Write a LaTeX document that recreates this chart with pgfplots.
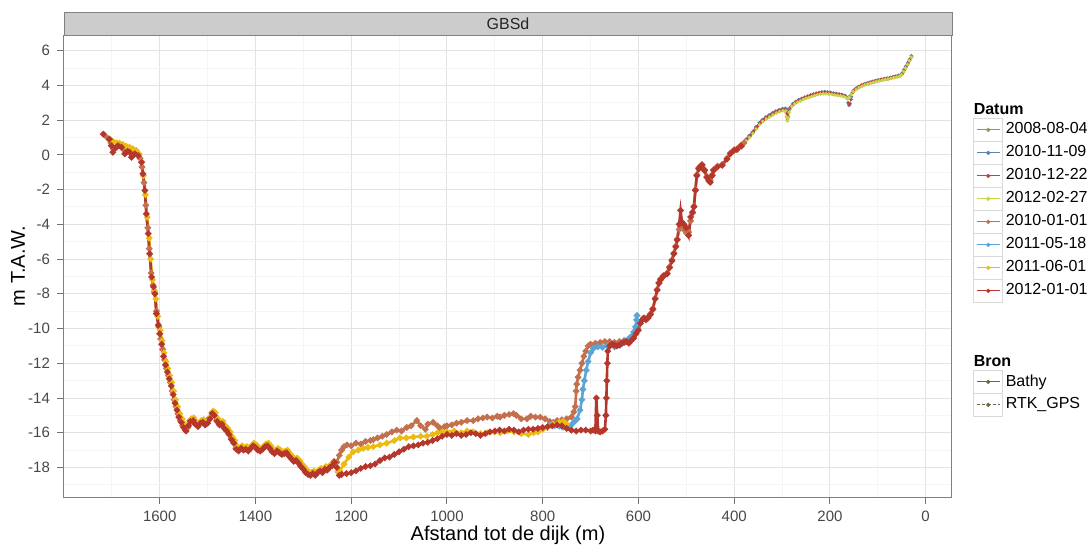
\documentclass[border=0pt]{standalone}
\usepackage{fontspec}
\setmainfont{Liberation Sans}
\usepackage{pgfplots}
\pgfplotsset{compat=1.18}
\definecolor{cA}{HTML}{8C9A5B}
\definecolor{cB}{HTML}{5E82A8}
\definecolor{cC}{HTML}{C8413B}
\definecolor{cD}{HTML}{C9D64A}
\definecolor{cE}{HTML}{C3704F}
\definecolor{cF}{HTML}{5AA5D6}
\definecolor{cG}{HTML}{EBBB12}
\definecolor{cH}{HTML}{B5372C}
\definecolor{cBron}{HTML}{6F6445}
\pgfplotsset{ggkey/.style={legend image code/.code={
  \draw[draw=black!15, fill=white, solid, line width=0.4pt] (0pt,-5.55pt) rectangle (14.5pt,5.55pt);
  \draw[mark repeat=2, mark phase=2, mark options={solid}] plot coordinates {(1.5pt,0pt) (7.25pt,0pt) (13pt,0pt)};
}}}
\begin{document}
\begin{tikzpicture}
\useasboundingbox (0,0) rectangle (544pt,274pt);
\begin{axis}[
  at={(32pt,25.5pt)}, anchor=south west,
  scale only axis, width=444pt, height=231pt,
  x dir=reverse, xmin=-55, xmax=1800, ymin=-19.7, ymax=6.9,
  xtick={0,200,400,600,800,1000,1200,1400,1600},
  xticklabels={0,200,400,600,800,1000,1200,1400,1600},
  ytick={-18,-16,-14,-12,-10,-8,-6,-4,-2,0,2,4,6},
  yticklabels={-18,-16,-14,-12,-10,-8,-6,-4,-2,0,2,4,6},
  minor xtick={100,300,500,700,900,1100,1300,1500,1700},
  minor ytick={-19,-17,-15,-13,-11,-9,-7,-5,-3,-1,1,3,5},
  tick align=outside, xtick pos=left, ytick pos=left,
  major tick length=3.5pt, minor tick length=0pt,
  tick style={black!55, line width=0.5pt},
  grid=both,
  major grid style={color=black!11, line width=0.5pt},
  minor grid style={color=black!4, line width=0.5pt},
  axis line style={black!50, line width=0.5pt},
  ticklabel style={font=\fontsize{7.5}{9}\selectfont, text=black!72},
  label style={font=\fontsize{9.8}{12}\selectfont},
  every axis x label/.style={at={(axis description cs:0.5,0)}, yshift=-19pt, anchor=center},
  every axis y label/.style={at={(axis description cs:0,0.5)}, xshift=-23pt, rotate=90, anchor=center},
  xlabel={Afstand tot de dijk (m)},
  ylabel={m T.A.W.},
  legend style={at={(1.0236,0.855)}, anchor=north west, draw=none, fill=none, inner sep=0pt,
    font=\fontsize{8}{9.6}\selectfont, row sep=0pt,
    nodes={inner xsep=1.3pt, inner ysep=0.5pt},
    /tikz/every even column/.append style={column sep=0pt}},
  legend cell align=left,
  bathy/.style={solid, line width=1.3pt, mark=*, mark size=0.85pt},
  rtk/.style={dash pattern=on 2pt off 1.5pt, line width=0.45pt, mark=*, mark size=0.65pt, mark options={solid}},
]
% ---------------- RTK_GPS ----------------
\addplot[cA, rtk, forget plot] coordinates {
(402,0.20) (395,0.35) (388,0.50) (381,0.65) (374,0.85) (367,1.05) (360,1.30) (353,1.55) (346,1.80) (339,1.98)
(332,2.12) (325,2.25) (318,2.35) (311,2.45) (304,2.52) (297,2.58) (292,2.50) (290,2.15) (289,2.00) (287,2.20)
(284,2.62) (279,2.85) (273,2.98) (267,3.08) (261,3.15) (255,3.22) (249,3.28) (243,3.35) (237,3.40) (231,3.45)
(225,3.50) (219,3.52) (213,3.55) (207,3.55) (201,3.52) (195,3.50) (189,3.47) (183,3.45) (177,3.42) (171,3.38)
(166,3.32) (162,3.25) (158,3.40) (154,3.55) (150,3.68) (144,3.80) (138,3.90) (132,3.98) (126,4.05) (120,4.10)
(114,4.15) (108,4.20) (102,4.24) (96,4.28) (90,4.32) (84,4.35) (78,4.38) (72,4.42) (66,4.46) (60,4.50)
(54,4.54) (49,4.65) (45,4.85) (41,5.05) (37,5.25) (33,5.45) (29,5.65)
};
\addplot[cB, rtk, forget plot] coordinates {
(398,0.30) (390,0.52) (383,0.68) (376,0.88) (369,1.10) (362,1.32) (355,1.60) (348,1.84) (341,2.02) (334,2.18)
(327,2.30) (320,2.42) (313,2.52) (306,2.60) (299,2.66) (293,2.68) (288,2.62) (283,2.72) (277,2.95) (271,3.08)
(265,3.18) (259,3.25) (253,3.32) (247,3.38) (241,3.45) (235,3.50) (229,3.55) (223,3.58) (217,3.62) (211,3.64)
(205,3.62) (199,3.60) (193,3.56) (187,3.54) (181,3.50) (175,3.48) (169,3.42) (165,3.30) (162,3.00) (160,2.85)
(158,2.95) (155,3.35) (151,3.70) (146,3.82) (140,3.92) (134,4.02) (128,4.08) (122,4.14) (116,4.19) (110,4.24)
(104,4.28) (98,4.32) (92,4.36) (86,4.39) (80,4.42) (74,4.46) (68,4.50) (62,4.54) (56,4.58) (50,4.68)
(46,4.88) (42,5.08) (38,5.28) (34,5.48) (30,5.70)
};
\addplot[cC, rtk, forget plot] coordinates {
(400,0.25) (393,0.42) (386,0.58) (379,0.75) (372,0.95) (365,1.18) (358,1.42) (351,1.66) (344,1.90) (337,2.06)
(330,2.20) (323,2.32) (316,2.44) (309,2.52) (302,2.58) (296,2.62) (291,2.45) (289,2.30) (286,2.45) (282,2.75)
(276,2.92) (270,3.05) (264,3.14) (258,3.22) (252,3.30) (246,3.36) (240,3.42) (234,3.48) (228,3.52) (222,3.56)
(216,3.58) (210,3.60) (204,3.58) (198,3.55) (192,3.52) (186,3.50) (180,3.47) (174,3.44) (168,3.38) (164,3.25)
(161,2.95) (159,2.90) (156,3.20) (152,3.60) (148,3.76) (142,3.88) (136,3.97) (130,4.04) (124,4.10) (118,4.15)
(112,4.20) (106,4.24) (100,4.28) (94,4.31) (88,4.35) (82,4.38) (76,4.41) (70,4.45) (64,4.49) (58,4.53)
(52,4.58) (47,4.76) (43,4.96) (39,5.16) (35,5.38) (31,5.58)
};
\addplot[cD, rtk, forget plot] coordinates {
(396,0.28) (389,0.45) (382,0.60) (375,0.80) (368,1.00) (361,1.22) (354,1.48) (347,1.72) (340,1.92) (333,2.06)
(326,2.18) (319,2.30) (312,2.40) (305,2.48) (298,2.54) (293,2.52) (291,2.20) (289,1.95) (287,2.10) (285,2.45)
(280,2.78) (274,2.92) (268,3.02) (262,3.10) (256,3.18) (250,3.25) (244,3.30) (238,3.36) (232,3.42) (226,3.46)
(220,3.50) (214,3.52) (208,3.52) (202,3.50) (196,3.48) (190,3.45) (184,3.42) (178,3.40) (172,3.36) (167,3.30)
(163,3.22) (159,3.30) (155,3.48) (151,3.64) (145,3.76) (139,3.87) (133,3.95) (127,4.02) (121,4.08) (115,4.13)
(109,4.18) (103,4.22) (97,4.26) (91,4.30) (85,4.33) (79,4.36) (73,4.40) (67,4.44) (61,4.48) (55,4.52)
(50,4.60) (46,4.80) (42,5.00) (38,5.20) (34,5.42) (30,5.62)
};
% ---------------- Bathy ----------------
% 2010-01-01
\addplot[cE, bathy, forget plot] coordinates {
(1716,1.15) (1708,0.95) (1702,0.70) (1697,0.35) (1690,0.45) (1684,0.55) (1677,0.35) (1670,0.15) (1662,0.20) (1655,0.00)
(1648,0.05) (1641,-0.20) (1637,-0.70) (1633,-1.60) (1629,-2.90) (1625,-4.20) (1622,-5.40) (1618,-6.80) (1614,-7.50) (1611,-7.90)
(1607,-9.00) (1602,-9.90) (1598,-10.60) (1594,-11.20) (1590,-11.80) (1586,-12.30) (1582,-12.70) (1578,-13.10) (1574,-13.60) (1570,-14.10)
(1566,-14.50) (1562,-14.90) (1557,-15.30) (1552,-15.60) (1547,-15.85) (1542,-15.70) (1537,-15.30) (1532,-15.25) (1527,-15.45) (1521,-15.55)
(1516,-15.40) (1511,-15.35) (1506,-15.50) (1501,-15.40) (1496,-15.15) (1491,-14.85) (1487,-14.95) (1481,-15.30) (1476,-15.50) (1471,-15.45)
(1466,-15.70) (1461,-15.85) (1456,-16.05) (1451,-16.35) (1446,-16.55) (1441,-16.90) (1436,-17.00) (1431,-16.85) (1426,-16.95) (1421,-16.90)
(1416,-17.00) (1411,-16.85) (1406,-16.70) (1401,-16.80) (1396,-16.95) (1391,-17.00) (1386,-16.90) (1381,-16.75) (1376,-16.70) (1371,-16.85)
(1366,-17.05) (1361,-17.15) (1356,-17.00) (1351,-17.10) (1346,-17.20) (1341,-17.15) (1336,-17.10) (1331,-17.30) (1326,-17.45) (1321,-17.60)
(1316,-17.55) (1311,-17.70) (1306,-17.90) (1301,-18.05) (1296,-18.25) (1291,-18.35) (1286,-18.40) (1281,-18.30) (1276,-18.40) (1271,-18.25)
(1266,-18.15) (1261,-18.25) (1256,-18.05) (1251,-18.10) (1246,-17.95) (1241,-17.85) (1236,-17.65) (1230,-17.70) (1225,-17.30) (1220,-17.00)
(1215,-16.80) (1209,-16.70) (1200,-16.75) (1190,-16.60) (1180,-16.65) (1170,-16.50) (1160,-16.45) (1154,-16.40) (1145,-16.30) (1135,-16.20)
(1126,-16.10) (1115,-15.95) (1105,-15.85) (1095,-15.90) (1084,-15.70) (1075,-15.60) (1063,-15.30) (1055,-15.60) (1045,-15.80) (1040,-15.50)
(1029,-15.40) (1020,-15.60) (1014,-15.75) (1005,-15.65) (1000,-15.60) (990,-15.55) (980,-15.45) (970,-15.40) (958,-15.30) (945,-15.30)
(935,-15.20) (925,-15.15) (916,-15.10) (905,-15.15) (895,-15.05) (889,-15.10) (880,-15.00) (870,-14.95) (861,-14.90) (855,-15.00)
(845,-15.20) (833,-15.20) (825,-15.05) (815,-15.10) (805,-15.10) (795,-15.20) (785,-15.35) (778,-15.40) (770,-15.30) (760,-15.25)
(750,-15.20) (740,-15.10) (735,-14.80) (732,-14.50) (730,-13.60) (729,-13.20) (726,-12.80) (722,-12.40) (718,-12.00) (714,-11.60)
(710,-11.30) (705,-11.00) (700,-10.90) (690,-10.85) (680,-10.80) (670,-10.75) (660,-10.75) (650,-10.80) (640,-10.75) (630,-10.70)
(620,-10.60) (610,-10.40) (602,-10.00) (596,-9.70) (590,-9.40) (585,-9.45) (580,-9.35) (575,-9.15) (570,-8.85) (565,-8.25)
(561,-7.75) (557,-7.35) (554,-7.15) (548,-6.95) (540,-6.80) (535,-6.45) (530,-6.05) (526,-5.65) (522,-5.25) (519,-4.85)
(515,-4.30) (510,-4.00) (505,-4.30) (500,-4.50) (495,-4.45) (491,-3.80) (487,-3.35) (484,-2.95) (481,-2.00) (478,-1.15)
(474,-0.75) (471,-0.65) (467,-0.55) (462,-0.85) (457,-1.25) (453,-1.45) (450,-1.50) (446,-1.15) (443,-0.85) (435,-0.65)
(425,-0.55) (415,-0.20) (408,0.10) (400,0.30) (394,0.35) (386,0.55) (380,0.68)
};
% 2011-05-18
\addplot[cF, bathy, forget plot] coordinates {
(785,-15.55) (775,-15.60) (765,-15.62) (758,-15.68) (750,-15.70) (742,-15.60) (735,-15.40) (728,-15.20) (722,-14.70) (718,-14.10)
(716,-13.50) (713,-13.00) (709,-12.40) (705,-11.90) (700,-11.40) (694,-11.15) (685,-11.05) (675,-11.08) (665,-11.00) (659,-11.00)
(650,-11.05) (638,-10.95) (628,-10.70) (617,-10.50) (610,-10.20) (606,-9.90) (604,-9.50) (603,-9.25)
};
% 2011-06-01
\addplot[cG, bathy, forget plot] coordinates {
(1702,0.85) (1697,0.75) (1690,0.70) (1684,0.67) (1677,0.60) (1670,0.50) (1663,0.44) (1656,0.35) (1649,0.25) (1643,0.05)
(1638,-0.40) (1634,-1.20) (1630,-2.30) (1626,-3.60) (1622,-4.80) (1619,-6.00) (1615,-7.20) (1611,-7.80) (1608,-8.30) (1604,-9.30)
(1599,-10.10) (1595,-10.70) (1591,-11.40) (1587,-11.90) (1583,-12.30) (1579,-12.70) (1575,-13.10) (1571,-13.60) (1567,-14.10) (1563,-14.50)
(1558,-14.90) (1553,-15.20) (1548,-15.50) (1543,-15.75) (1538,-15.50) (1534,-15.20) (1529,-15.15) (1524,-15.35) (1518,-15.50) (1513,-15.30)
(1508,-15.25) (1503,-15.40) (1498,-15.30) (1493,-15.05) (1488,-14.75) (1484,-14.85) (1478,-15.20) (1473,-15.40) (1468,-15.35) (1463,-15.60)
(1458,-15.75) (1453,-15.95) (1448,-16.25) (1443,-16.45) (1438,-16.80) (1433,-16.90) (1428,-16.75) (1423,-16.85) (1418,-16.80) (1413,-16.90)
(1408,-16.75) (1403,-16.60) (1398,-16.70) (1393,-16.85) (1388,-16.90) (1383,-16.80) (1378,-16.65) (1373,-16.60) (1368,-16.75) (1363,-16.95)
(1358,-17.05) (1353,-16.90) (1348,-17.00) (1343,-17.10) (1338,-17.05) (1333,-17.00) (1328,-17.20) (1323,-17.35) (1318,-17.50) (1313,-17.45)
(1308,-17.60) (1303,-17.80) (1298,-17.95) (1293,-18.15) (1288,-18.25) (1283,-18.30) (1278,-18.20) (1273,-18.30) (1268,-18.15) (1263,-18.05)
(1258,-18.15) (1253,-17.95) (1248,-18.00) (1243,-17.85) (1238,-17.75) (1233,-17.90) (1228,-18.25) (1224,-18.20) (1215,-17.80) (1205,-17.40)
(1196,-17.10) (1185,-17.00) (1175,-16.90) (1165,-16.85) (1154,-16.80) (1140,-16.70) (1126,-16.60) (1110,-16.45) (1098,-16.30) (1085,-16.30)
(1070,-16.25) (1055,-16.20) (1042,-16.20) (1030,-16.10) (1020,-16.00) (1010,-15.95) (1000,-15.95) (985,-15.90) (970,-16.00) (958,-15.90)
(945,-15.95) (930,-16.05) (916,-16.00) (900,-15.95) (889,-16.00) (875,-15.90) (860,-15.95) (845,-16.05) (830,-16.10) (819,-16.00)
(810,-15.95) (800,-15.80) (790,-15.70) (778,-15.50) (765,-15.40) (757,-15.35) (750,-15.50)
};
% 2012-01-01
\addplot[cH, bathy, forget plot] coordinates {
(1718,1.19) (1705,0.90) (1701,0.53) (1698,0.15) (1692,0.40) (1687,0.53) (1680,0.44) (1673,0.06) (1667,0.20) (1663,0.15)
(1659,-0.14) (1652,0.06) (1645,-0.04) (1638,-0.43) (1635,-1.09) (1631,-2.05) (1628,-3.40) (1624,-4.54) (1621,-5.70) (1617,-7.03)
(1613,-7.60) (1610,-8.00) (1607,-9.14) (1603,-9.80) (1600,-10.30) (1596,-10.90) (1592,-11.60) (1588,-12.10) (1584,-12.50) (1580,-12.90)
(1576,-13.30) (1572,-13.80) (1568,-14.30) (1564,-14.70) (1560,-15.10) (1555,-15.40) (1550,-15.70) (1545,-15.90) (1540,-15.60) (1536,-15.35)
(1530,-15.30) (1526,-15.50) (1520,-15.65) (1515,-15.45) (1510,-15.40) (1505,-15.55) (1500,-15.45) (1495,-15.20) (1490,-14.90) (1486,-15.00)
(1480,-15.35) (1475,-15.55) (1470,-15.50) (1465,-15.75) (1460,-15.90) (1455,-16.10) (1450,-16.40) (1445,-16.60) (1440,-16.95) (1435,-17.05)
(1430,-16.90) (1425,-17.00) (1420,-16.95) (1415,-17.05) (1410,-16.90) (1405,-16.75) (1400,-16.85) (1395,-17.00) (1390,-17.05) (1385,-16.95)
(1380,-16.80) (1375,-16.75) (1370,-16.90) (1365,-17.10) (1360,-17.20) (1355,-17.05) (1350,-17.15) (1345,-17.25) (1340,-17.20) (1335,-17.15)
(1330,-17.35) (1325,-17.50) (1320,-17.65) (1315,-17.60) (1310,-17.75) (1305,-17.95) (1300,-18.10) (1295,-18.30) (1290,-18.40) (1285,-18.45)
(1280,-18.35) (1275,-18.45) (1270,-18.30) (1265,-18.20) (1260,-18.30) (1255,-18.10) (1250,-18.15) (1245,-18.00) (1240,-17.90) (1235,-17.70)
(1230,-18.00) (1225,-18.45) (1220,-18.40) (1210,-18.35) (1200,-18.30) (1190,-18.20) (1180,-18.05) (1170,-17.95) (1160,-17.90) (1150,-17.80)
(1140,-17.60) (1130,-17.45) (1120,-17.40) (1110,-17.25) (1100,-17.10) (1090,-16.95) (1080,-16.80) (1070,-16.75) (1060,-16.70) (1050,-16.60)
(1040,-16.55) (1030,-16.45) (1020,-16.35) (1010,-16.20) (1000,-16.10) (990,-16.15) (980,-16.05) (970,-16.15) (960,-16.10) (950,-16.00)
(940,-16.05) (930,-16.15) (920,-16.05) (910,-15.95) (900,-15.90) (890,-15.85) (880,-15.90) (870,-15.80) (860,-15.85) (850,-15.95)
(840,-15.85) (830,-15.80) (820,-15.80) (810,-15.75) (800,-15.70) (790,-15.65) (780,-15.60) (770,-15.55) (760,-15.60) (750,-15.75)
(740,-15.85) (730,-15.90) (720,-15.85) (710,-15.85) (700,-15.90) (695,-15.85) (690,-15.90) (688,-14.00) (686,-15.00) (684,-15.90)
(680,-15.95) (675,-15.90) (670,-15.80) (668,-15.00) (667,-14.00) (666,-13.00) (665,-12.00) (664,-11.30) (660,-11.00) (655,-10.90)
(650,-10.95) (645,-11.00) (640,-10.95) (635,-10.85) (630,-10.80) (625,-10.75) (620,-10.85) (615,-10.70) (610,-10.55) (605,-10.30)
(600,-10.10) (596,-9.70) (592,-9.50) (588,-9.40) (584,-9.50) (580,-9.40) (575,-9.20) (570,-8.90) (565,-8.30) (561,-7.80)
(557,-7.40) (554,-7.20) (548,-7.00) (540,-6.85) (535,-6.50) (530,-6.10) (526,-5.70) (522,-5.30) (519,-4.90) (515,-4.00)
(512,-3.20) (509,-3.88) (505,-4.00) (500,-4.20) (495,-4.64) (491,-3.58) (487,-3.30) (484,-3.00) (481,-2.05) (478,-1.20)
(474,-0.80) (471,-0.70) (467,-0.60) (462,-0.90) (457,-1.30) (453,-1.50) (450,-1.58) (446,-1.20) (443,-0.90) (435,-0.70)
(425,-0.60) (415,-0.25) (408,0.06) (400,0.25) (394,0.30) (385,0.50)
};
% ---------------- legend ----------------
\addlegendimage{empty legend}
\addlegendentry{\hspace*{-16pt}\textbf{Datum}\rule[-2.5pt]{0pt}{1pt}}
\addlegendimage{ggkey, cA, solid, line width=0.5pt, mark=*, mark size=0.8pt}
\addlegendentry{2008-08-04}
\addlegendimage{ggkey, cB, solid, line width=0.5pt, mark=*, mark size=0.8pt}
\addlegendentry{2010-11-09}
\addlegendimage{ggkey, cC, solid, line width=0.5pt, mark=*, mark size=0.8pt}
\addlegendentry{2010-12-22}
\addlegendimage{ggkey, cD, solid, line width=0.5pt, mark=*, mark size=0.8pt}
\addlegendentry{2012-02-27}
\addlegendimage{ggkey, cE, solid, line width=0.5pt, mark=*, mark size=0.8pt}
\addlegendentry{2010-01-01}
\addlegendimage{ggkey, cF, solid, line width=0.5pt, mark=*, mark size=0.8pt}
\addlegendentry{2011-05-18}
\addlegendimage{ggkey, cG, solid, line width=0.5pt, mark=*, mark size=0.8pt}
\addlegendentry{2011-06-01}
\addlegendimage{ggkey, cH, solid, line width=0.5pt, mark=*, mark size=0.8pt}
\addlegendentry{2012-01-01}
\addlegendimage{white, opacity=0, legend image code/.code={\path[draw=none, fill=none] (0pt,-13pt) rectangle (1pt,13pt);}}
\addlegendentry{\mbox{}}
\addlegendimage{empty legend}
\addlegendentry{\hspace*{-16pt}\textbf{Bron}\rule[-2.5pt]{0pt}{1pt}}
\addlegendimage{ggkey, cBron, solid, line width=0.5pt, mark=*, mark size=0.8pt}
\addlegendentry{Bathy}
\addlegendimage{ggkey, cBron, dash pattern=on 1.5pt off 1.2pt, line width=0.5pt, mark=*, mark size=0.8pt}
\addlegendentry{RTK\_GPS}
\end{axis}
% facet strip
\draw[fill=black!20, draw=black!50, line width=0.5pt] (32pt,256.5pt) rectangle (476pt,267.9pt);
\node[font=\fontsize{8}{9.6}\selectfont, text=black!85] at (254pt,262.2pt) {GBSd};
\end{tikzpicture}
\end{document}
